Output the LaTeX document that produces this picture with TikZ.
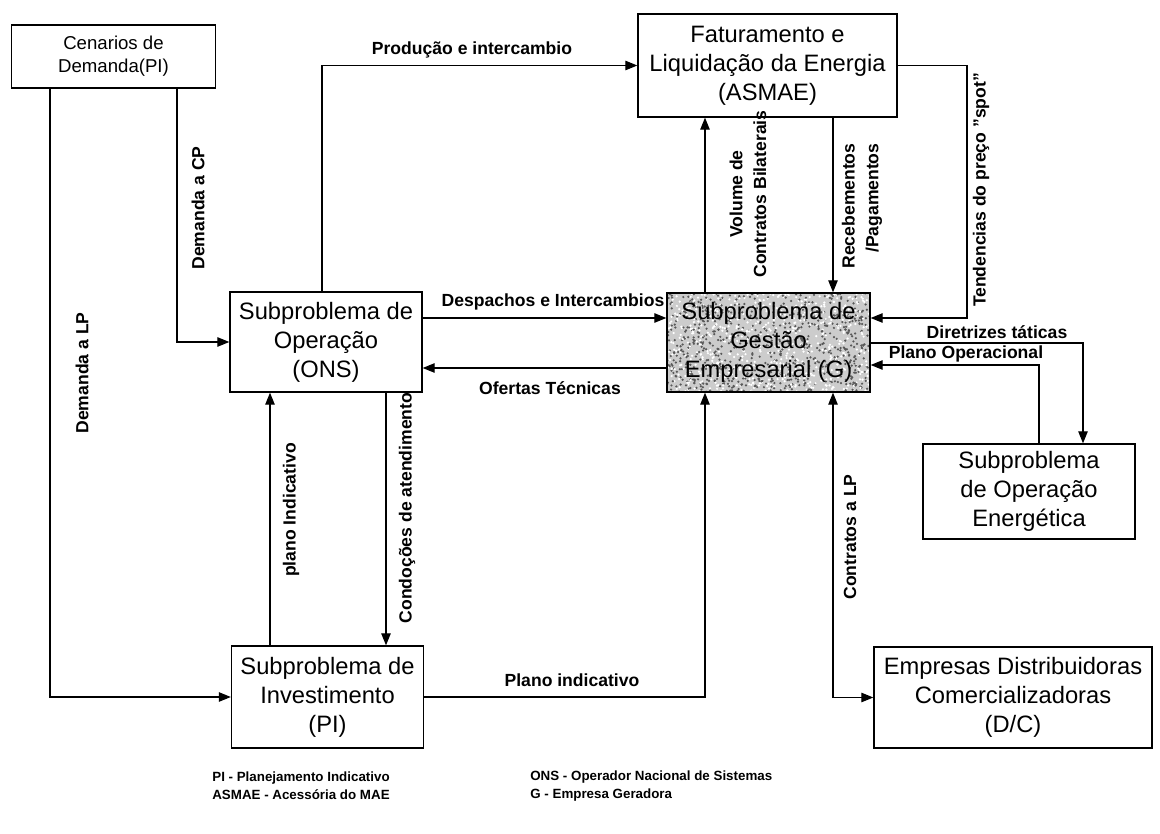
\documentclass[tikz,border=0pt]{standalone}
\usepackage{fontspec}
\setmainfont{Liberation Sans}
\usetikzlibrary{arrows.meta}
\pgfdeclarelayer{background}
\pgfsetlayers{background,main}
\begin{document}
\begin{tikzpicture}[x=0.02cm,y=-0.02cm,
  box/.style={draw, line width=0.8pt, align=center, inner sep=0pt,
    font=\fontsize{13.5}{16.5}\selectfont},
  arr/.style={line width=0.6pt, -{Triangle[length=0.24cm,width=0.19cm]}},
  darr/.style={line width=0.6pt, {Triangle[length=0.24cm,width=0.19cm]}-{Triangle[length=0.24cm,width=0.19cm]}},
  lbl/.style={font=\bfseries\fontsize{10}{12}\selectfont, inner sep=1pt},
  vlbl/.style={lbl, rotate=90},
  vlbl2/.style={vlbl, font=\bfseries\fontsize{10}{13.5}\selectfont},
  leg/.style={font=\bfseries\fontsize{7.6}{10.2}\selectfont, align=left, inner sep=0pt, anchor=west}]

\useasboundingbox (0,0) rectangle (1160,834);

% ---- blocks ----
\node[box, minimum width=4.08cm, minimum height=1.26cm,
      font=\fontsize{10.6}{13}\selectfont] (cen) at (113.5,56.5) {Cenarios de\\Demanda(PI)};
\node[box, minimum width=5.18cm, minimum height=2.06cm] (fat) at (767.5,65.5)
  {Faturamento e\\Liquidação da Energia\\(ASMAE)};
\node[box, minimum width=3.84cm, minimum height=2.0cm] (ons) at (326,342)
  {Subproblema de\\Operação\\(ONS)};
\node[box, minimum width=4.06cm, minimum height=1.98cm] (g) at (768.5,342.5)
  {Subproblema de\\Gestão\\Empresarial (G)};
\node[box, minimum width=3.84cm, minimum height=2.04cm] (inv) at (327.5,697)
  {Subproblema de\\Investimento\\(PI)};
\node[box, minimum width=4.24cm, minimum height=1.9cm] (energ) at (1029,491.5)
  {Subproblema\\de Operação\\Energética};
\node[box, minimum width=5.56cm, minimum height=2.02cm] (emp) at (1013,697.5)
  {Empresas Distribuidoras\\Comercializadoras\\(D/C)};

% stippled grey ground of the management block, behind its text
\begin{pgfonlayer}{background}
  \begin{scope}
    \clip (g.south west) rectangle (g.north east);
    \fill[black!20] (g.south west) rectangle (g.north east);
    \pgfmathsetseed{17}
    \foreach \i in {1,...,1500}{
      \pgfmathsetmacro\rx{666+206*rnd}
      \pgfmathsetmacro\ry{292+102*rnd}
      \pgfmathsetmacro\rc{rnd}
      \ifdim\rc pt<0.55pt
        \fill[black!65] (\rx,\ry) circle (0.7pt);
      \else
        \fill[white] (\rx,\ry) circle (0.7pt);
      \fi
    }
  \end{scope}
\end{pgfonlayer}

% ---- routing points ----
\coordinate (lpx) at (50,0);
\coordinate (cpx) at (177,0);
\coordinate (prx) at (322,0);
\coordinate (dy)  at (0,318);
\coordinate (oy)  at (0,368);
\coordinate (vx)  at (705,0);
\coordinate (rx)  at (833,0);
\coordinate (tk)  at (967,318);
\coordinate (dk)  at (1083,343);
\coordinate (pk)  at (1039,365);
\coordinate (pix) at (270,0);
\coordinate (cox) at (386,0);

% ---- connectors ----
\draw[arr] (cen.south -| lpx) |- (inv.west);
\draw[arr] (cen.south -| cpx) |- (ons.west);
\draw[arr] (ons.north -| prx) |- (fat.west);
\draw[arr] (ons.east |- dy) -- (g.west |- dy);
\draw[arr] (g.west |- oy) -- (ons.east |- oy);
\draw[arr] (g.north -| vx) -- (fat.south -| vx);
\draw[arr] (fat.south -| rx) -- (g.north -| rx);
\draw[arr] (fat.east) -| (tk) -- (g.east |- tk);
\draw[arr] (g.east |- dk) -- (dk) -- (energ.north -| dk);
\draw[arr] (energ.north -| pk) -- (pk) -- (g.east |- pk);
\draw[arr] (inv.north -| pix) -- (ons.south -| pix);
\draw[arr] (ons.south -| cox) -- (inv.north -| cox);
\draw[arr] (inv.east) -| (g.south -| vx);
\draw[darr] (g.south -| rx) |- (emp.west);

% ---- connector labels ----
\node[lbl] (tprod) at (472,50) {Produção e intercambio};
\node[lbl] (tdesp) at (553,302) {Despachos e Intercambios};
\node[lbl] (tofer) at (550,388) {Ofertas Técnicas};
\node[lbl] (tdir)  at (997,332) {Diretrizes táticas};
\node[lbl] (tplop) at (966,354) {Plano Operacional};
\node[lbl] (tplin) at (572,680) {Plano indicativo};
\node[vlbl] (tdlp) at (82,373) {Demanda a LP};
\node[vlbl] (tdcp) at (198,208) {Demanda a CP};
\node[vlbl2, align=center] (tvol) at (748,194) {Volume de\\Contratos Bilaterais};
\node[vlbl2, align=right] (trec) at (862,206) {Recebementos\\/Pagamentos};
\node[vlbl] (tten) at (981,190) {Tendencias do preço "spot"};
\node[vlbl] (tpind) at (291,510) {plano Indicativo};
\node[vlbl] (tcond) at (407,508) {Condoções de atendimento};
\node[vlbl] (tcont) at (850,537) {Contratos a LP};

% ---- legend ----
\node[leg] (leg1) at (212,786) {PI - Planejamento Indicativo\\ASMAE - Acessória do MAE};
\node[leg] (leg2) at (530,786) {ONS - Operador Nacional de Sistemas\\G - Empresa Geradora};
\end{tikzpicture}
\end{document}
